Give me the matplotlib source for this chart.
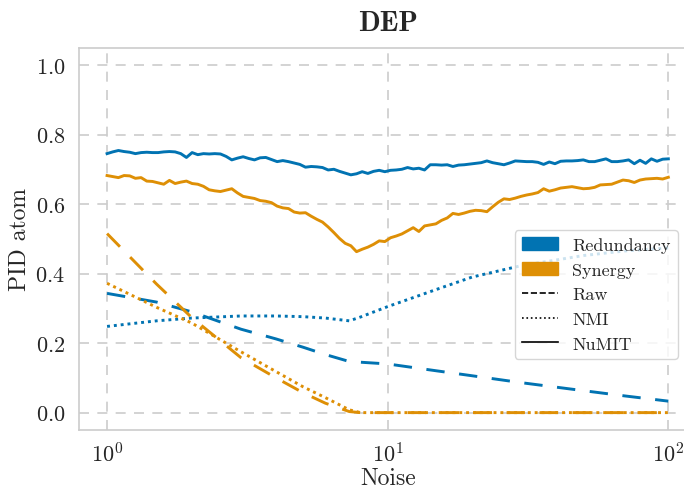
import numpy as np
import matplotlib
matplotlib.use("Agg")
import matplotlib.pyplot as plt
from matplotlib.patches import Patch
from matplotlib.lines import Line2D

plt.rcParams.update({
    "font.family": "cmr10",
    "mathtext.fontset": "cm",
    "axes.formatter.use_mathtext": True,
    "text.color": "0.15",
    "axes.labelcolor": "0.15",
    "xtick.color": "0.15",
    "ytick.color": "0.15",
})

BLUE = "#0173b2"
ORANGE = "#de8f05"

# NuMIT-normalised atoms, evaluated on 100 log-spaced noise levels
noise_fine = np.logspace(0, 2, 100)
redundancy_numit = [
    0.745, 0.750, 0.754, 0.751, 0.749, 0.745, 0.748, 0.749, 0.748, 0.748,
    0.750, 0.751, 0.750, 0.745, 0.734, 0.748, 0.742, 0.745, 0.744, 0.745,
    0.744, 0.737, 0.727, 0.732, 0.736, 0.731, 0.727, 0.733, 0.734, 0.728,
    0.722, 0.725, 0.722, 0.718, 0.714, 0.706, 0.708, 0.707, 0.705, 0.698,
    0.700, 0.694, 0.689, 0.684, 0.687, 0.693, 0.688, 0.694, 0.697, 0.693,
    0.697, 0.698, 0.700, 0.705, 0.701, 0.703, 0.698, 0.713, 0.713, 0.712,
    0.713, 0.708, 0.712, 0.713, 0.715, 0.717, 0.719, 0.724, 0.719, 0.716,
    0.713, 0.718, 0.724, 0.723, 0.722, 0.722, 0.720, 0.714, 0.721, 0.716,
    0.723, 0.724, 0.724, 0.725, 0.727, 0.722, 0.722, 0.726, 0.730, 0.722,
    0.722, 0.724, 0.727, 0.716, 0.726, 0.717, 0.730, 0.723, 0.729, 0.730,
]
synergy_numit = [
    0.682, 0.679, 0.676, 0.682, 0.681, 0.674, 0.676, 0.666, 0.665, 0.661,
    0.657, 0.668, 0.659, 0.663, 0.666, 0.659, 0.657, 0.651, 0.641, 0.638,
    0.636, 0.640, 0.644, 0.632, 0.622, 0.619, 0.616, 0.610, 0.608, 0.604,
    0.594, 0.589, 0.587, 0.577, 0.574, 0.575, 0.565, 0.556, 0.548, 0.534,
    0.518, 0.501, 0.487, 0.480, 0.463, 0.470, 0.476, 0.484, 0.494, 0.492,
    0.503, 0.508, 0.514, 0.523, 0.532, 0.521, 0.537, 0.540, 0.543, 0.553,
    0.560, 0.573, 0.570, 0.574, 0.579, 0.582, 0.581, 0.578, 0.592, 0.605,
    0.615, 0.613, 0.617, 0.622, 0.626, 0.629, 0.633, 0.644, 0.637, 0.641,
    0.646, 0.648, 0.650, 0.647, 0.644, 0.645, 0.648, 0.655, 0.656, 0.657,
    0.663, 0.669, 0.667, 0.662, 0.669, 0.672, 0.673, 0.674, 0.672, 0.677,
]

# Raw and NMI atoms (smooth curves)
noise_coarse = [1, 1.5, 2, 3, 4, 5, 6, 7.3, 8, 10, 15, 20, 30, 50, 70, 100]
redundancy_raw = [0.343, 0.318, 0.290, 0.240, 0.212, 0.188, 0.167, 0.147,
                  0.145, 0.140, 0.120, 0.106, 0.086, 0.063, 0.048, 0.033]
redundancy_nmi = [0.248, 0.264, 0.272, 0.278, 0.278, 0.276, 0.272, 0.264,
                  0.275, 0.305, 0.355, 0.390, 0.423, 0.452, 0.465, 0.474]
synergy_raw = [0.515, 0.370, 0.274, 0.158, 0.100, 0.057, 0.027, 0.003,
               0.0, 0.0, 0.0, 0.0, 0.0, 0.0, 0.0, 0.0]
synergy_nmi = [0.372, 0.303, 0.258, 0.175, 0.118, 0.074, 0.043, 0.008,
               0.0, 0.0, 0.0, 0.0, 0.0, 0.0, 0.0, 0.0]

fig = plt.figure(figsize=(6.84, 4.89), dpi=100)
ax = fig.add_axes([79 / 684, 58 / 489, 617.4 / 684, 382.4 / 489])
ax.set_xscale("log")
ax.set_xlim(10 ** -0.1, 10 ** 2.1)
ax.set_ylim(-0.05, 1.05)

LW = 2.1
DASH = (6.3, 5.0)
DOT = (1.0, 1.35)

series = [
    (BLUE, redundancy_raw, redundancy_nmi, redundancy_numit),
    (ORANGE, synergy_raw, synergy_nmi, synergy_numit),
]
for color, raw, nmi, numit in series:
    ax.plot(noise_coarse, raw, color=color, lw=LW, dashes=DASH)
    ax.plot(noise_coarse, nmi, color=color, lw=LW, dashes=DOT)
    ax.plot(noise_fine, numit, color=color, lw=LW)

ax.set_xticks([1, 10, 100])
ax.set_yticks([0.0, 0.2, 0.4, 0.6, 0.8, 1.0])
ax.minorticks_off()
ax.tick_params(axis="both", length=0, labelsize=16)
ax.tick_params(axis="y", pad=10)
ax.tick_params(axis="x", pad=8)

ax.grid(True, color="#cccccc", lw=1.2, ls=(0, (6, 5)))
ax.set_axisbelow(True)
for sp in ax.spines.values():
    sp.set_color("#cccccc")
    sp.set_linewidth(1.2)

ax.set_xlabel("Noise", fontsize=17, labelpad=1)
ax.set_ylabel("PID atom", fontsize=17, labelpad=3)
ax.set_title("DEP", fontfamily="cmb10", fontsize=20.5, pad=13)

handles = [
    Patch(facecolor=BLUE, edgecolor=BLUE, label="Redundancy"),
    Patch(facecolor=ORANGE, edgecolor=ORANGE, label="Synergy"),
    Line2D([], [], color="black", lw=1.2, ls="--", label="Raw"),
    Line2D([], [], color="black", lw=1.2, ls=":", label="NMI"),
    Line2D([], [], color="black", lw=1.2, ls="-", label="NuMIT"),
]
ax.legend(handles=handles, loc="lower right", bbox_to_anchor=(0.970, 0.186),
          borderaxespad=0, fontsize=13, framealpha=0.8, edgecolor="#cccccc")

fig.savefig("out.png", dpi=100)
